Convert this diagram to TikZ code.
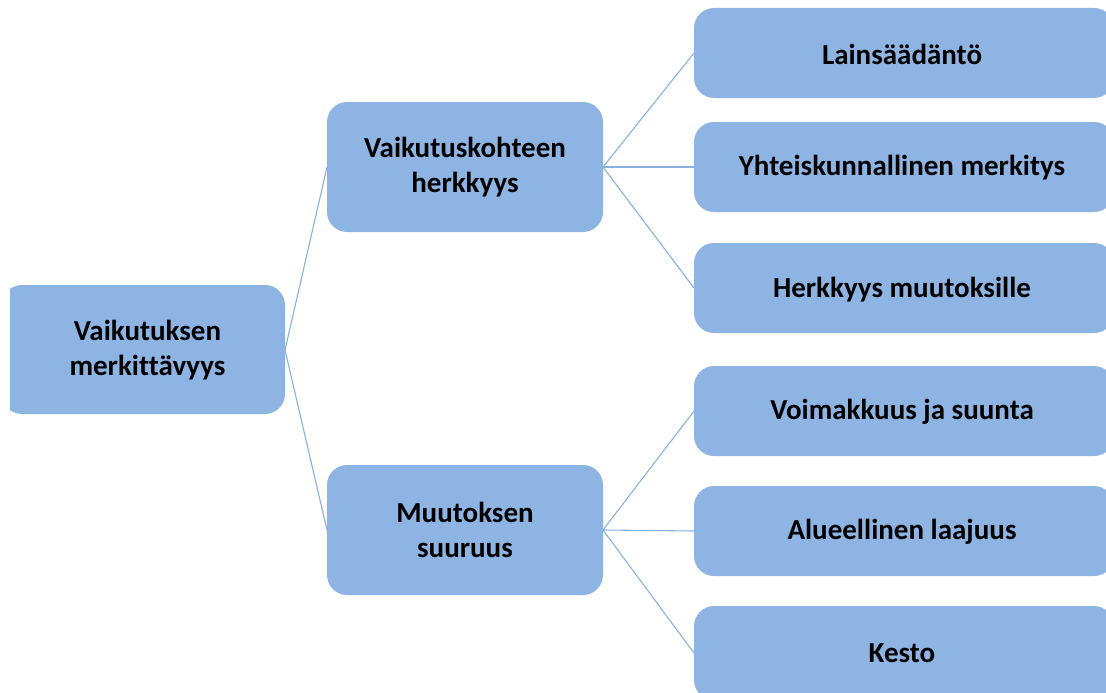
\documentclass[tikz,border=0pt]{standalone}
\usepackage{fontspec}
\setmainfont{Carlito}[Ligatures=NoCommon]
\definecolor{boxblue}{HTML}{8EB4E3}
\definecolor{lineblue}{HTML}{8AB0E0}
\begin{document}
\begin{tikzpicture}[x=1pt,y=-1pt,
  bx/.style={fill=boxblue,rounded corners=20pt},
  lbl/.style={font=\bfseries\fontsize{29}{35}\selectfont,align=center,text=black,inner sep=0pt},
  conn/.style={draw=lineblue,line width=1.1pt}]
\useasboundingbox (0,0) rectangle (1106,693);
\clip (0,0) rectangle (1106,693);
% root (clipped at left)
\begin{scope}
\clip (10,0) rectangle (1106,693);
\fill[bx] (2,285) rectangle (285,414);
\end{scope}
\coordinate (rootR) at (285,350);
\node[lbl] (root) at (147.5,350) {Vaikutuksen\\merkittävyys};
% middle
\fill[bx] (327,102) rectangle (603,232);
\node[lbl] (m1) at (465,167) {Vaikutuskohteen\\herkkyys};
\coordinate (m1L) at (327,167);
\coordinate (m1R) at (603,167);
\fill[bx] (327,465) rectangle (603,595);
\node[lbl] (m2) at (465,530) {Muutoksen\\suuruus};
\coordinate (m2L) at (327,530);
\coordinate (m2R) at (603,530);
% leaves
\foreach \n/\t/\b in {l1/8/98, l2/122/212, l3/243/333, l4/366/456, l5/486/576, l6/606/700}{
  \fill[bx] (694,\t) rectangle (1114,\b);
  \coordinate (\n L) at (694,{(\t+\b)/2});
}
\node[lbl] (t1) at (902,54) {Lainsäädäntö};
\node[lbl] (t2) at (902,168) {Yhteiskunnallinen merkitys};
\node[lbl] (t3) at (902,290) {Herkkyys muutoksille};
\node[lbl] (t4) at (902,412) {Voimakkuus ja suunta};
\node[lbl] (t5) at (902,532) {Alueellinen laajuus};
\node[lbl] (t6) at (902,653) {Kesto};
% connectors
\draw[conn] (rootR) -- (m1L);
\draw[conn] (rootR) -- (m2L);
\draw[conn] (m1R) -- (l1L);
\draw[conn] (m1R) -- (l2L);
\draw[conn] (m1R) -- (l3L);
\draw[conn] (m2R) -- (l4L);
\draw[conn] (m2R) -- (l5L);
\draw[conn] (m2R) -- (l6L);
\end{tikzpicture}
\end{document}
